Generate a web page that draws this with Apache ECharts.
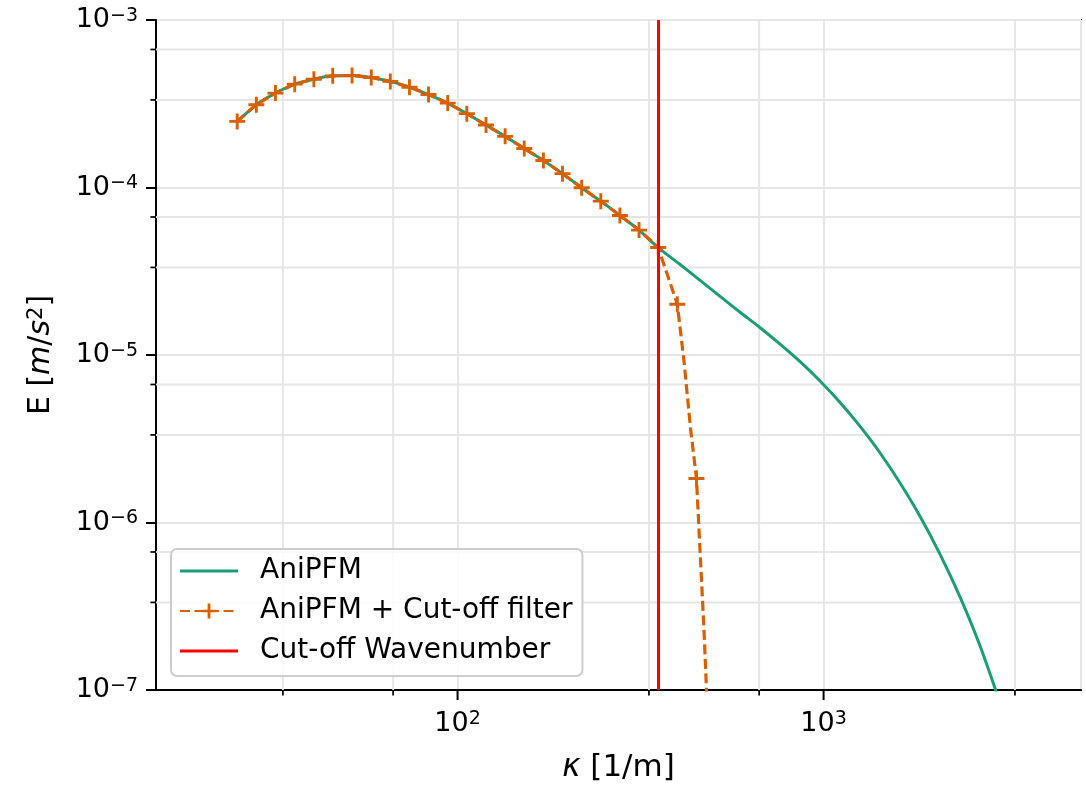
<!DOCTYPE html>
<html><head><meta charset="utf-8">
<script src="https://cdn.jsdelivr.net/npm/echarts@6/dist/echarts.min.js"></script>
<style>html,body{margin:0;padding:0;background:#fff}#c{width:1086px;height:788px}</style>
</head><body><div id="c"></div>
<script>
// ---- data ----
const kappaLow = [25.0, 28.2, 31.8, 35.9, 40.5, 45.6, 51.5, 58.1, 65.5, 73.9, 83.3, 94.0, 106.0, 119.6, 134.9, 152.1, 171.6, 193.5, 218.3, 246.2, 277.7, 313.2, 353.3];
const energyLow = [2.48e-4, 3.12e-4, 3.66e-4, 4.14e-4, 4.43e-4, 4.64e-4, 4.66e-4, 4.54e-4, 4.30e-4, 3.97e-4, 3.59e-4, 3.19e-4, 2.76e-4, 2.36e-4, 2.02e-4, 1.71e-4, 1.45e-4, 1.21e-4, 9.96e-5, 8.29e-5, 6.81e-5, 5.57e-5, 4.38e-5];
const kappaHigh = [405.5, 459.8, 521.5, 591.4, 670.8, 760.5, 862.7, 978.1, 1109.5, 1258.3, 1427.3, 1618.1, 1835.5, 2081.1, 2360.5, 2676.5, 3034.9, 3233];
const energyHigh = [3.47e-5, 2.79e-5, 2.24e-5, 1.80e-5, 1.455e-5, 1.162e-5, 9.13e-6, 7.00e-6, 5.21e-6, 3.75e-6, 2.60e-6, 1.72e-6, 1.085e-6, 6.45e-7, 3.58e-7, 1.83e-7, 8.37e-8, 5.47e-8];
const kappaTail = [398.5, 415.9, 433.1, 449.5, 461.3, 471.0, 478.8, 507.0];
const energyTail = [2.01e-5, 9.05e-6, 3.63e-6, 1.83e-6, 5.83e-7, 2.34e-7, 1.0e-7, 4e-9];
const tailHasMarker = [true, false, false, true, false, false, false, true];
const cutoffKappa = 354;
const xMin = 15, xMax = 5050, yMin = 1e-7, yMax = 1e-3;
const xMajorTicks = [100, 1000];
const xMinorTicks = [33.33, 66.67, 333.3, 666.7, 3333];
const yMinorTicks = [3.333e-7, 6.667e-7, 3.333e-6, 6.667e-6, 3.333e-5, 6.667e-5, 3.333e-4, 6.667e-4];
const names = ['AniPFM', 'AniPFM + Cut-off filter', 'Cut-off Wavenumber'];

// ---- styles ----
const FONT = 'DejaVu Sans';
const GREEN = '#1b9e77', ORANGE = '#d95f02', RED = '#ff0000';
const GRID = '#e6e6e6';
const PLUS = 'path://M4.1,0H5.9V4.1H10V5.9H5.9V10H4.1V5.9H0V4.1H4.1Z';
const supRich = {
  b: {fontFamily: FONT, fontSize: 27, color: '#000', lineHeight: 27, verticalAlign: 'bottom'},
  s: {fontFamily: FONT, fontSize: 19, color: '#000', lineHeight: 19, verticalAlign: 'top', padding: [0, 0, 13, 0]}
};
function powLabel(v) {
  const l = Math.log10(v), e = Math.round(l);
  if (Math.abs(l - e) > 1e-6) return '';
  return '{b|10}{s|' + (e < 0 ? '\u2212' + (-e) : e) + '}';
}

const green = kappaLow.map((k, i) => [k, energyLow[i]]).concat(kappaHigh.map((k, i) => [k, energyHigh[i]]));
const orange = kappaLow.map((k, i) => ({value: [k, energyLow[i]]}))
  .concat(kappaTail.map((k, i) => tailHasMarker[i] ? {value: [k, energyTail[i]]} : {value: [k, energyTail[i]], symbol: 'none'}));

function tickSeries(data, isX, len, width, withGrid) {
  return {
    type: 'custom', coordinateSystem: 'cartesian2d', silent: true, clip: false, z: 1,
    data: data.map(v => isX ? [v, yMin] : [xMin, v]),
    renderItem: function (params, api) {
      const v = isX ? api.value(0) : api.value(1);
      const a = isX ? api.coord([v, yMin]) : api.coord([xMin, v]);
      const b = isX ? api.coord([v, yMax]) : api.coord([xMax, v]);
      const ch = [];
      if (withGrid) ch.push({type: 'line', shape: {x1: a[0], y1: a[1], x2: b[0], y2: b[1]}, style: {stroke: GRID, lineWidth: 2}});
      ch.push({type: 'line', shape: isX ? {x1: a[0], y1: a[1], x2: a[0], y2: a[1] + len} : {x1: a[0], y1: a[1], x2: a[0] - len, y2: a[1]},
        style: {stroke: '#000', lineWidth: width}});
      return {type: 'group', children: ch};
    }
  };
}

const chart = echarts.init(document.getElementById('c'));
chart.setOption({
  animation: false,
  backgroundColor: '#fff',
  grid: {left: 156, right: 5, top: 20, bottom: 96, show: true, borderColor: '#000', borderWidth: 2, backgroundColor: 'transparent'},
  xAxis: {
    type: 'log', logBase: 10, min: xMin, max: xMax,
    axisLine: {show: true, lineStyle: {color: '#000', width: 2}},
    axisTick: {show: false},
    splitLine: {show: true, lineStyle: {color: GRID, width: 2}},
    axisLabel: {margin: 20, formatter: powLabel, rich: supRich, color: '#000'},
    name: '{i|\u03ba}{r| [1/m]}', nameLocation: 'middle', nameGap: 62,
    nameTextStyle: {rich: {
      i: {fontFamily: FONT, fontSize: 31, fontStyle: 'italic', color: '#000'},
      r: {fontFamily: FONT, fontSize: 31, color: '#000'}
    }}
  },
  yAxis: {
    type: 'log', logBase: 10, min: yMin, max: yMax,
    axisLine: {show: true, lineStyle: {color: '#000', width: 2}},
    axisTick: {show: true, length: 10, lineStyle: {color: '#000', width: 2}},
    splitLine: {show: true, lineStyle: {color: GRID, width: 2}},
    axisLabel: {margin: 18, formatter: powLabel, rich: supRich, color: '#000'},
    name: '{r|E [}{i|m}{r|/}{i|s}{s|2}{r|]}', nameLocation: 'middle', nameGap: 100, nameRotate: 90,
    nameTextStyle: {rich: {
      r: {fontFamily: FONT, fontSize: 30, color: '#000', lineHeight: 30, verticalAlign: 'bottom'},
      i: {fontFamily: FONT, fontSize: 30, fontStyle: 'italic', color: '#000', lineHeight: 30, verticalAlign: 'bottom'},
      s: {fontFamily: FONT, fontSize: 21, color: '#000', lineHeight: 21, verticalAlign: 'top', padding: [0, 0, 13, 0]}
    }}
  },
  legend: {
    orient: 'vertical', left: 171, top: 549,
    padding: [8, 10, 11, 8], itemGap: 12, itemWidth: 58, itemHeight: 19,
    backgroundColor: 'rgba(255,255,255,0.8)', borderColor: '#cccccc', borderWidth: 2, borderRadius: 6,
    textStyle: {fontFamily: FONT, fontSize: 28, color: '#000', lineHeight: 28, padding: [0, 0, 0, 17]},
    data: [
      {name: names[0], icon: 'path://M0,0H58V3H0Z'},
      {name: names[1]},
      {name: names[2], icon: 'path://M0,0H58V3H0Z'}
    ]
  },
  series: [
    tickSeries(xMajorTicks, true, 10, 2, false),
    tickSeries(xMinorTicks, true, 5.6, 1.7, true),
    tickSeries(yMinorTicks, false, 5.6, 1.7, true),
    {
      name: names[0], type: 'line', data: green, symbol: 'none', smooth: 0.2,
      lineStyle: {color: GREEN, width: 3}, itemStyle: {color: GREEN}, z: 3
    },
    {
      name: names[1], type: 'line', data: orange, symbol: PLUS, symbolSize: 16, showAllSymbol: true,
      lineStyle: {color: ORANGE, width: 3.2, type: [10, 4.5]}, itemStyle: {color: ORANGE}, z: 4
    },
    {
      name: names[2], type: 'line', data: [[cutoffKappa, yMin], [cutoffKappa, yMax]], symbol: 'none',
      lineStyle: {color: RED, width: 3}, itemStyle: {color: RED}, z: 5
    }
  ]
});
</script></body></html>
